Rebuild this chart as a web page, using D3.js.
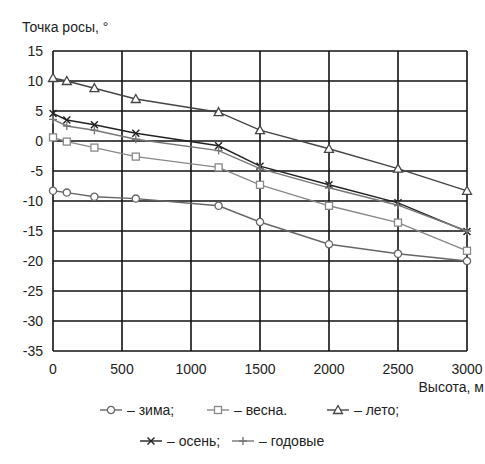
<!DOCTYPE html>
<html>
<head>
<meta charset="utf-8">
<script src="https://cdn.jsdelivr.net/npm/d3@7"></script>
<style>
  body { margin: 0; background: #fff; }
  text { font-family: "Liberation Sans", Arial, sans-serif; fill: #222; }
</style>
</head>
<body>
<script>
// data
var altitudes = [0, 100, 300, 600, 1200, 1500, 2000, 2500, 3000];
var winter = [-8.3, -8.6, -9.3, -9.6, -10.8, -13.5, -17.2, -18.8, -20];
var spring = [0.6, -0.1, -1.1, -2.6, -4.4, -7.3, -10.8, -13.6, -18.3];
var summer = [10.5, 10, 8.8, 7, 4.8, 1.8, -1.3, -4.6, -8.3];
var autumn = [4.6, 3.5, 2.7, 1.3, -0.8, -4.2, -7.3, -10.3, -15.1];
var annual = [3.6, 2.5, 1.8, 0.3, -1.6, -4.6, -7.8, -10.7, -15];
var seriesNames = ["зима;", "весна.", "лето;", "осень;", "годовые"];
var xTicks = [0, 500, 1000, 1500, 2000, 2500, 3000];
var yTicks = [15, 10, 5, 0, -5, -10, -15, -20, -25, -30, -35];

var W = 485, H = 464;
var svg = d3.select("body").append("svg").attr("width", W).attr("height", H);

var x = d3.scaleLinear().domain([0, 3000]).range([53, 467]);
var y = d3.scaleLinear().domain([-35, 15]).range([351, 51]);

// grid
svg.append("g").selectAll("line").data(xTicks).enter().append("line")
    .attr("x1", d => x(d)).attr("x2", d => x(d))
    .attr("y1", y(15)).attr("y2", y(-35))
    .attr("stroke", "#111").attr("stroke-width", 1.6);
svg.append("g").selectAll("line").data(yTicks).enter().append("line")
    .attr("y1", d => y(d)).attr("y2", d => y(d))
    .attr("x1", x(0)).attr("x2", x(3000))
    .attr("stroke", "#111").attr("stroke-width", 1.6);

// tick labels
svg.append("g").selectAll("text").data(yTicks).enter().append("text")
    .attr("x", 43).attr("y", d => y(d) + 5)
    .attr("text-anchor", "end").style("font-size", "14px")
    .text(d => d);
svg.append("g").selectAll("text").data(xTicks).enter().append("text")
    .attr("x", d => x(d)).attr("y", 374)
    .attr("text-anchor", "middle").style("font-size", "14px")
    .text(d => d);

svg.append("text").attr("x", 22).attr("y", 32).style("font-size", "14px").text("Точка росы, °");
svg.append("text").attr("x", 484).attr("y", 392).attr("text-anchor", "end")
    .style("font-size", "14px").text("Высота, м");

var series = [
  {name: seriesNames[0], values: winter, sym: "circle", color: "#666"},
  {name: seriesNames[1], values: spring, sym: "square", color: "#888"},
  {name: seriesNames[2], values: summer, sym: "triangle", color: "#444"},
  {name: seriesNames[3], values: autumn, sym: "cross", color: "#222"},
  {name: seriesNames[4], values: annual, sym: "plus", color: "#777"}
];

function drawMarker(g, sym, color) {
  if (sym == "circle") {
    g.append("circle").attr("r", 3.6).attr("fill", "#fff").attr("stroke", color).attr("stroke-width", 1.3);
  } else if (sym == "square") {
    g.append("rect").attr("x", -3.5).attr("y", -3.5).attr("width", 7).attr("height", 7)
      .attr("fill", "#fff").attr("stroke", color).attr("stroke-width", 1.3);
  } else if (sym == "triangle") {
    g.append("path").attr("d", "M0,-4.5L4.5,3.5L-4.5,3.5Z")
      .attr("fill", "#fff").attr("stroke", color).attr("stroke-width", 1.3);
  } else if (sym == "cross") {
    g.append("path").attr("d", "M-3.5,-3.5L3.5,3.5M-3.5,3.5L3.5,-3.5")
      .attr("stroke", color).attr("stroke-width", 1.4);
  } else {
    g.append("path").attr("d", "M0,-4L0,4M-4,0L4,0")
      .attr("stroke", color).attr("stroke-width", 1.4);
  }
}

var line = d3.line().x(d => x(d[0])).y(d => y(d[1]));

series.forEach(function(s) {
  var pts = altitudes.map((a, i) => [a, s.values[i]]);
  svg.append("path").datum(pts)
      .attr("d", line)
      .attr("fill", "none")
      .attr("stroke", s.color)
      .attr("stroke-width", 1.4);
  pts.forEach(function(p) {
    var g = svg.append("g").attr("transform", "translate(" + x(p[0]) + "," + y(p[1]) + ")");
    drawMarker(g, s.sym, s.color);
  });
});

// legend
var legendPos = [
  {x: 100, y: 410}, {x: 207, y: 410}, {x: 327, y: 410},
  {x: 140, y: 441}, {x: 232, y: 441}
];
series.forEach(function(s, i) {
  var lg = svg.append("g").attr("transform", "translate(" + legendPos[i].x + "," + legendPos[i].y + ")");
  lg.append("line").attr("x1", 0).attr("x2", 22).attr("y1", 0).attr("y2", 0)
    .attr("stroke", s.color).attr("stroke-width", 1.4);
  drawMarker(lg.append("g").attr("transform", "translate(11,0)"), s.sym, s.color);
  lg.append("text").attr("x", 27).attr("y", 5).style("font-size", "14px")
    .text("– " + s.name);
});
</script>
</body>
</html>
